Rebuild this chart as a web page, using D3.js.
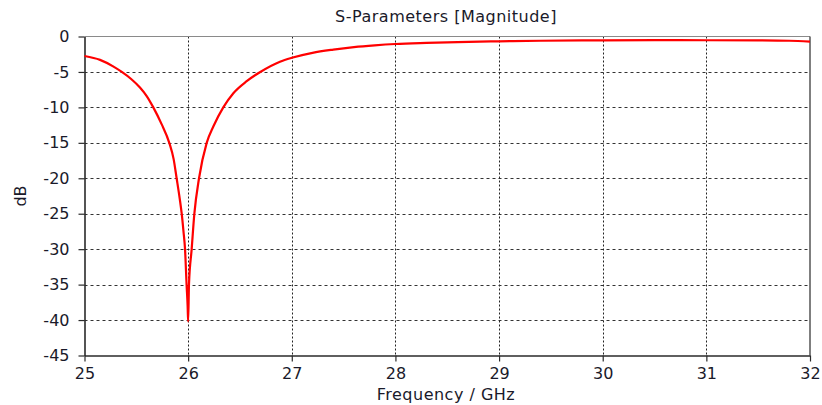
<!DOCTYPE html>
<html>
<head>
<meta charset="utf-8">
<script src="https://cdn.jsdelivr.net/npm/d3@7/dist/d3.min.js"></script>
<style>
  html, body { margin: 0; padding: 0; background: #fff; }
  svg { display: block; }
  text { font-family: "DejaVu Sans", Verdana, sans-serif; fill: #1a1a2a; }
</style>
</head>
<body>
<svg id="chart" width="822" height="405"></svg>
<script>
// Reflection magnitude S1,1 in dB versus frequency
const freqGHz = [
  25.00, 25.15, 25.28, 25.36, 25.45, 25.535, 25.60, 25.664, 25.745, 25.818,
  25.86, 25.889, 25.92, 25.938, 25.955, 25.97, 25.985, 25.995, 26.00,
  26.008, 26.034, 26.06, 26.105, 26.179, 26.243, 26.339,
  26.436, 26.565, 26.696, 26.886, 27.00, 27.2, 27.4, 27.6, 27.8, 28.0,
  28.3, 28.6, 29.0, 29.4, 29.8, 30.5, 31.0, 31.5, 31.8, 32.0
];
const magDB = [
  -2.75, -3.3, -4.25, -5.0, -6.0, -7.2, -8.4, -10.0, -12.4, -15.0,
  -17.3, -20.0, -23.0, -25.0, -27.5, -30.0, -35.0, -38.0, -40.2,
  -35.0, -30.0, -25.0, -20.0, -15.0, -12.7, -10.0,
  -8.0, -6.3, -5.0, -3.55, -3.0, -2.3, -1.85, -1.5, -1.25, -1.06,
  -0.9, -0.78, -0.68, -0.6, -0.55, -0.52, -0.53, -0.55, -0.6, -0.72
];
const xTicks = [25, 26, 27, 28, 29, 30, 31, 32];
const yTicks = [0, -5, -10, -15, -20, -25, -30, -35, -40, -45];

const titleText = "S-Parameters [Magnitude]";
const xLabel = "Frequency / GHz";
const yLabel = "dB";

const svg = d3.select("#chart");
const plot = { left: 84.5, right: 810, top: 36.5, bottom: 355.5 };

const x = d3.scaleLinear().domain([25, 32]).range([plot.left, plot.right]);
const y = d3.scaleLinear().domain([-45, 0]).range([plot.bottom, plot.top]);

// grid
const grid = svg.append("g");
grid.selectAll("line.h").data(yTicks.filter(d => d !== 0 && d !== -45)).join("line")
  .attr("x1", plot.left).attr("x2", plot.right)
  .attr("y1", d => Math.round(y(d)) + 0.5).attr("y2", d => Math.round(y(d)) + 0.5)
  .attr("stroke", "#333").attr("stroke-width", 1).attr("stroke-dasharray", "3,3");
grid.selectAll("line.v").data(xTicks.filter(d => d !== 25 && d !== 32)).join("line")
  .attr("y1", plot.top).attr("y2", plot.bottom)
  .attr("x1", d => Math.round(x(d)) + 0.5).attr("x2", d => Math.round(x(d)) + 0.5)
  .attr("stroke", "#222").attr("stroke-width", 1).attr("stroke-dasharray", "2,2");

// frame
svg.append("line").attr("x1", plot.left).attr("x2", plot.right).attr("y1", plot.top).attr("y2", plot.top)
  .attr("stroke", "#8a8a8a").attr("stroke-width", 1);
svg.append("line").attr("x1", plot.right).attr("x2", plot.right).attr("y1", plot.top).attr("y2", plot.bottom)
  .attr("stroke", "#555").attr("stroke-width", 1.5);

// axes
const xAxis = d3.axisBottom(x).tickValues(xTicks).tickFormat(d3.format("d")).tickSizeInner(6).tickSizeOuter(0).tickPadding(6);
const yAxis = d3.axisLeft(y).tickValues(yTicks).tickFormat(d => d === 0 ? "0" : "-" + Math.abs(d)).tickSizeInner(6).tickSizeOuter(0).tickPadding(9);

const gx = svg.append("g").attr("transform", `translate(0,${plot.bottom})`).call(xAxis);
const gy = svg.append("g").attr("transform", `translate(${plot.left},0)`).call(yAxis);
[gx, gy].forEach(g => {
  g.select(".domain").attr("stroke", "#2a2a2a").attr("stroke-width", 1.6);
  g.selectAll(".tick line").attr("stroke", "#2a2a2a").attr("stroke-width", 1.2);
  g.selectAll(".tick text").attr("font-size", 16).attr("font-family", "DejaVu Sans, Verdana, sans-serif").attr("fill", "#1a1a2a");
});

// curve
const pts = freqGHz.map((f, i) => [f, magDB[i]]);
svg.append("path").datum(pts)
  .attr("fill", "none").attr("stroke", "#ff0000").attr("stroke-width", 2.2)
  .attr("stroke-linejoin", "round")
  .attr("d", d3.line().x(d => x(d[0])).y(d => y(d[1])).curve(d3.curveMonotoneX));

// titles
svg.append("text").attr("x", 446).attr("y", 22).attr("text-anchor", "middle")
  .attr("font-size", 16).attr("letter-spacing", 0.5).text(titleText);
svg.append("text").attr("x", 446).attr("y", 400).attr("text-anchor", "middle")
  .attr("font-size", 16).attr("letter-spacing", 0.5).text(xLabel);
svg.append("text").attr("transform", "translate(26,196) rotate(-90)").attr("text-anchor", "middle")
  .attr("font-size", 16).text(yLabel);
</script>
</body>
</html>
